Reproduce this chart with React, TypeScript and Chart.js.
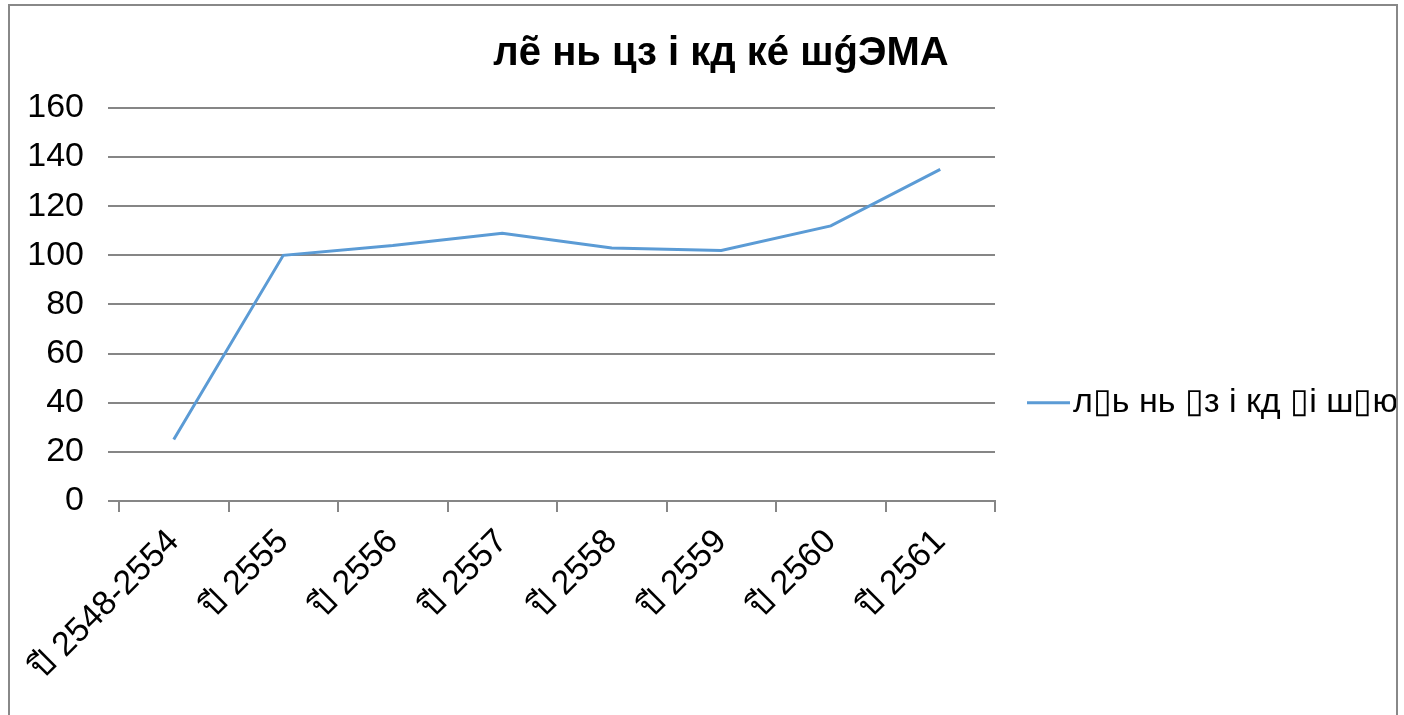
import { useEffect, useRef } from "react";
import { Chart, registerables } from "chart.js";

Chart.register(...registerables);

// x categories (Thai Buddhist-era years)
const YEARS = [
  "ปี 2548-2554",
  "ปี 2555",
  "ปี 2556",
  "ปี 2557",
  "ปี 2558",
  "ปี 2559",
  "ปี 2560",
  "ปี 2561",
];
// series values
const CASES = [25, 100, 104, 109, 103, 102, 112, 135];
const Y_MIN = 0;
const Y_MAX = 160;
const Y_STEP = 20;

// text as it appears in the picture
const TITLE = "лẽ нь цз і кд кé шǵЭМА";
const SERIES_LABEL = "л▯ь нь ▯з і кд ▯і ш▯ю▯";

const GRID = "#868686";
const LINE = "#5b9bd5";
const FONT = "'Liberation Sans', Arial, sans-serif";

// legend drawn to the right of the plot, like the office chart
const sideLegend = {
  id: "sideLegend",
  afterDraw(chart: any) {
    const { ctx, chartArea } = chart;
    const ds = chart.data.datasets[0];
    const x = chartArea.right + 32;
    const y = chartArea.top + chartArea.height * 0.75;
    ctx.save();
    ctx.strokeStyle = ds.borderColor;
    ctx.lineWidth = 3;
    ctx.beginPath();
    ctx.moveTo(x, y);
    ctx.lineTo(x + 43, y);
    ctx.stroke();
    ctx.fillStyle = "#000";
    ctx.font = `34px ${FONT}`;
    ctx.textBaseline = "middle";
    ctx.fillText(ds.label, x + 46, y);
    ctx.restore();
  },
};

export default function App() {
  const canvasRef = useRef<HTMLCanvasElement>(null);

  useEffect(() => {
    if (!canvasRef.current) return;
    const chart = new Chart(canvasRef.current, {
      type: "line",
      data: {
        labels: YEARS,
        datasets: [
          {
            label: SERIES_LABEL,
            data: CASES,
            borderColor: LINE,
            borderWidth: 3,
            pointRadius: 0,
            tension: 0,
            yAxisID: "y",
          },
        ],
      },
      options: {
        responsive: false,
        animation: false,
        layout: { padding: { bottom: 28 } },
        plugins: {
          legend: { display: false },
          tooltip: { enabled: false },
          title: {
            display: true,
            text: TITLE,
            color: "#000",
            font: { family: FONT, size: 40, weight: "bold" },
            padding: { top: 24, bottom: 30 },
          },
        },
        scales: {
          x: {
            offset: true,
            grid: {
              offset: true,
              drawOnChartArea: false,
              color: GRID,
              lineWidth: 2,
              tickLength: 11,
            },
            border: { display: true, color: GRID, width: 2 },
            ticks: {
              color: "#000",
              font: { family: FONT, size: 34 },
              minRotation: 45,
              maxRotation: 45,
              autoSkip: false,
              padding: 10,
            },
          },
          y: {
            min: Y_MIN,
            max: Y_MAX,
            afterFit: (s: any) => {
              s.width = 109;
            },
            grid: { color: GRID, lineWidth: 2, tickLength: 11 },
            border: { display: false },
            ticks: {
              stepSize: Y_STEP,
              color: "#000",
              font: { family: FONT, size: 34 },
              padding: 24,
            },
          },
          // empty right axis only keeps room for the legend
          spacer: {
            type: "linear",
            position: "right",
            grid: { display: false },
            border: { display: false },
            ticks: { display: false },
            afterFit: (s: any) => {
              s.width = 437;
            },
          },
        },
      },
      plugins: [sideLegend],
    });
    return () => chart.destroy();
  }, []);

  return (
    <div
      style={{
        position: "fixed",
        left: 8,
        top: 4,
        width: 1386,
        height: 760,
        border: "2px solid #888",
        overflow: "hidden",
        background: "#fff",
      }}
    >
      <canvas
        ref={canvasRef}
        width={1422}
        height={720}
        style={{ display: "block", width: 1422, height: 720 }}
      />
    </div>
  );
}
